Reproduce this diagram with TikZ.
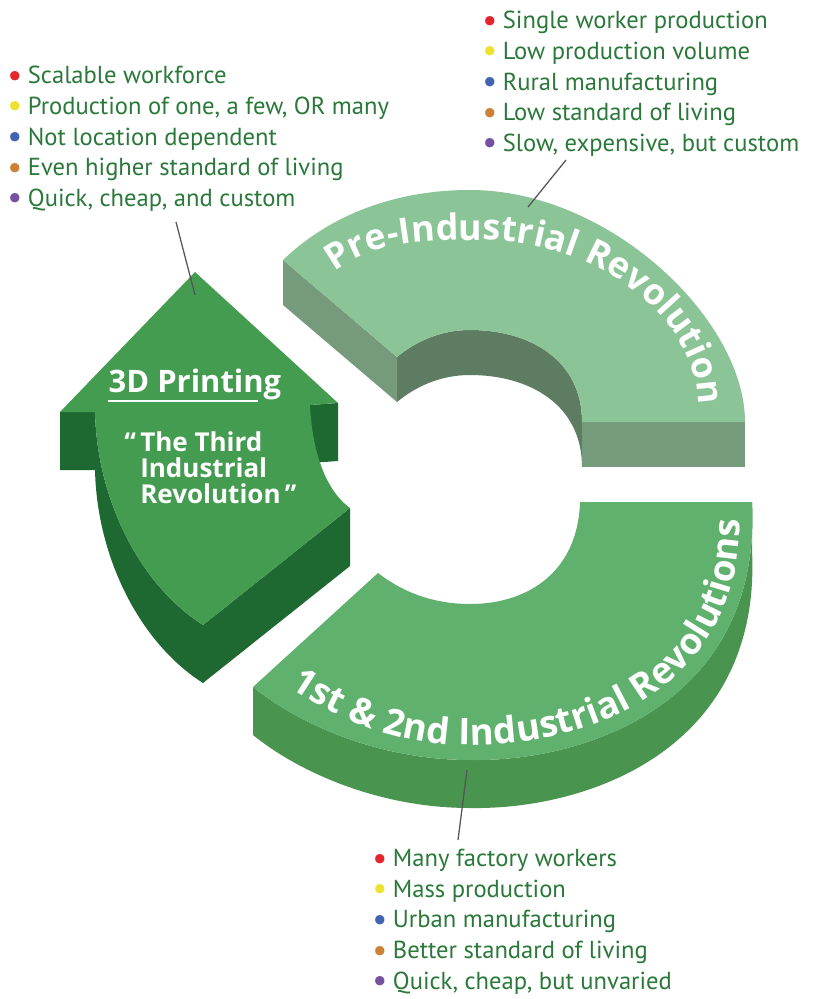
\documentclass[tikz,border=0pt]{standalone}
\usepackage{fontspec}
\setmainfont{PT Sans}
\newfontfamily\labelfont{Open Sans}
\usetikzlibrary{decorations.text}
\usetikzlibrary{positioning}

\definecolor{listgreen}{RGB}{42,120,58}
\definecolor{preTop}{RGB}{139,197,151}
\definecolor{preCut}{RGB}{117,155,124}
\definecolor{preWall}{RGB}{93,124,98}
\definecolor{indTop}{RGB}{96,177,110}
\definecolor{indSide}{RGB}{73,148,79}
\definecolor{arrTop}{RGB}{68,156,81}
\definecolor{arrSide}{RGB}{30,104,49}
\definecolor{dotred}{RGB}{228,38,44}
\definecolor{dotyellow}{RGB}{238,226,48}
\definecolor{dotblue}{RGB}{66,100,176}
\definecolor{dotorange}{RGB}{204,130,54}
\definecolor{dotpurple}{RGB}{116,82,160}
\definecolor{leader}{RGB}{85,85,85}

\newcommand{\bul}[2]{\textcolor{#1}{\raisebox{-0.1em}{\scalebox{1.35}{\textbullet}}}\hspace{4pt}#2}

\begin{document}
\begin{tikzpicture}[x=0.025cm,y=-0.025cm,
  lst/.style={anchor=north west,inner sep=0pt,align=left,text=listgreen,
    font=\fontsize{17.5}{21.8}\selectfont},
  lead/.style={draw=leader,line width=0.9pt},
  bold/.style={text=white,font=\labelfont\bfseries\fontsize{#1}{#1}\selectfont}]

\fill[white] (0,0) rectangle (812,999);

% pre-industrial revolution
\fill[preWall] (397,357) .. controls (415,342) and (440,330) .. (470,330) .. controls (530,330) and (582,360) .. (582,422)
  -- (582,467) .. controls (582,405) and (530,375) .. (470,375) .. controls (440,375) and (415,387) .. (397,402) -- cycle;
\fill[preCut] (283,260) -- (397,357) -- (397,402) -- (283,305) -- cycle;
\fill[preCut] (582,422) rectangle (745,467);
\fill[preTop] (745,422) .. controls (745,320) and (610,190) .. (470,190) .. controls (395,190) and (330,215) .. (283,260)
  -- (397,357) .. controls (415,342) and (440,330) .. (470,330) .. controls (530,330) and (582,360) .. (582,422) -- cycle;

% 1st and 2nd industrial revolutions
\fill[indSide] (752,502) .. controls (762,700) and (590,762) .. (470,760) .. controls (380,760) and (300,725) .. (253,687)
  -- (253,735) .. controls (300,773) and (380,808) .. (470,808) .. controls (590,810) and (762,748) .. (752,550) -- cycle;
\fill[indTop] (752,502) .. controls (762,700) and (590,762) .. (470,760) .. controls (380,760) and (300,725) .. (253,687)
  -- (378,573) .. controls (400,590) and (430,604) .. (470,604) .. controls (530,604) and (578,570) .. (580,502) -- cycle;

% 3D printing arrow
\fill[arrSide] (60,412) -- (95,412) .. controls (97,500) and (140,585) .. (203,625)
  -- (203,683) .. controls (140,643) and (97,558) .. (95,470) -- (60,470) -- cycle;
\fill[arrSide] (310,405) -- (338,403) -- (338,461) -- (310,463) -- cycle;
\fill[arrSide] (203,625) -- (350,508) -- (350,566) -- (203,683) -- cycle;
\fill[arrTop] (195,272) -- (338,403) -- (310,405) .. controls (312,450) and (325,490) .. (350,508)
  -- (203,625) .. controls (140,585) and (97,500) .. (95,412) -- (60,412) -- cycle;

\node[bold=22, anchor=base] (title) at (195,392) {3D Printing};
\draw[white, line width=1.5pt] (108,401) -- (258,401);
\node[bold=18.5, anchor=north west, inner sep=0pt, align=left] (quote) at (140,431)
  {\llap{“\hspace{3pt}}The Third\\ Industrial\\ Revolution\hspace{3pt}”};

% curved labels
\path[decorate, decoration={text along path, text align=fit to path, text color=white,
  text={|\labelfont\bfseries\fontsize{25.5}{25.5}\selectfont|Pre-Industrial Revolution}}]
  (335,272) .. controls (378,240) and (422,240) .. (480,240) .. controls (600,240) and (698,320) .. (698,405);
\path[decorate, decoration={text along path, text align=fit to path, text color=white,
  text={|\labelfont\bfseries\fontsize{26}{26}\selectfont|1st {\&} 2nd Industrial Revolutions}}]
  (290,687) .. controls (335,718) and (395,745) .. (470,745) .. controls (590,745) and (740,690) .. (740,520);

% lists
\node[lst] (list3d) at (7,66) {\bul{dotred}{Scalable workforce}\\ \bul{dotyellow}{Production of one, a few, OR many}\\
  \bul{dotblue}{Not location dependent}\\ \bul{dotorange}{Even higher standard of living}\\ \bul{dotpurple}{Quick, cheap, and custom}};
\node[lst] (listpre) at (482,11) {\bul{dotred}{Single worker production}\\ \bul{dotyellow}{Low production volume}\\
  \bul{dotblue}{Rural manufacturing}\\ \bul{dotorange}{Low standard of living}\\ \bul{dotpurple}{Slow, expensive, but custom}};
\node[lst] (listind) at (372,849) {\bul{dotred}{Many factory workers}\\ \bul{dotyellow}{Mass production}\\
  \bul{dotblue}{Urban manufacturing}\\ \bul{dotorange}{Better standard of living}\\ \bul{dotpurple}{Quick, cheap, but unvaried}};

% leaders
\coordinate (pin3d) at (176,222);
\coordinate (tip3d) at (195,295);
\coordinate (pinpre) at (566,160);
\coordinate (tippre) at (528,207);
\coordinate (pinind) at (458,840);
\coordinate (tipind) at (467,770);
\draw[lead] (pin3d) -- (tip3d);
\draw[lead] (pinpre) -- (tippre);
\draw[lead] (pinind) -- (tipind);

\end{tikzpicture}
\end{document}
